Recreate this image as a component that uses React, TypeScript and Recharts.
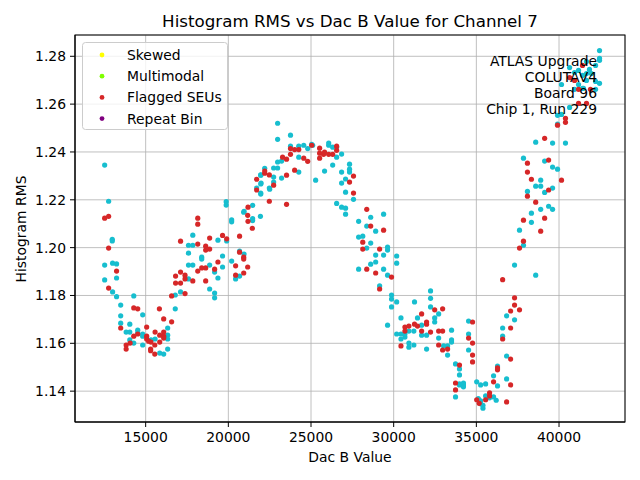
import { ScatterChart, Scatter, XAxis, YAxis, CartesianGrid } from 'recharts'

// Normal (unflagged) bins
const normalDac = [
  12520, 12760, 12980, 12980, 12520, 13000, 13240, 13240, 12520, 13000, 13240, 14280, 16790, 17110,
  17850, 17590, 17850, 19370, 17590, 18390, 18390, 17590, 17850, 18870, 19170, 19370, 17590, 18870,
  19170, 19170, 19870, 19870, 20200, 20200, 19900, 20950, 21470, 21470, 21470, 21940, 21980, 21960,
  22200, 21960, 22480, 20680, 20950, 20200, 19650, 19650, 13490, 13490, 14820, 13490, 14040, 13820,
  14040, 14520, 14520, 14820, 14820, 16330, 16330, 16330, 15570, 15320, 14280, 14820, 14040, 15850,
  16090, 16330, 16790, 20440, 20680, 22980, 22980, 23760, 23760, 24260, 24560, 24800, 25040, 25100,
  26070, 26070, 26310, 26550, 24260, 23220, 22980, 22740, 22980, 21960, 21960, 22740, 22740, 23220,
  24260, 25280, 25820, 26310, 26550, 26850, 26850, 27330, 27330, 27330, 27090, 26850, 27090, 27570,
  22500, 21960, 21710, 20930, 26550, 26850, 27090, 27090, 29390, 28610, 27880, 28370, 28910, 27880,
  28130, 28610, 28370, 29630, 29630, 28910, 29390, 30180, 30180, 28610, 28910, 27880, 29390, 29630,
  29150, 29870, 29870, 32230, 32230, 30180, 29870, 29630, 31260, 32230, 32720, 32480, 32480, 30440,
  31440, 31690, 30920, 31220, 30440, 30180, 30680, 30680, 30440, 31690, 31990, 33500, 32720, 30920,
  30920, 31220, 31990, 33020, 33260, 33500, 33500, 33260, 33740, 33980, 33980, 34530, 34530, 34530,
  33980, 34220, 34220, 34220, 33980, 33740, 35020, 35260, 35560, 35260, 35260, 35560, 36040, 35800,
  36040, 36280, 36280, 36830, 36830, 36590, 36590, 36830, 37310, 35400, 35400, 36200, 35120, 38590,
  37310, 37850, 37610, 38330, 38330, 38890, 39370, 39610, 38090, 38590, 38890, 38890, 39130, 39610,
  37850, 39130, 39610, 39910, 38590, 39610, 40390, 39910, 40150, 39910, 40640, 40150, 40640, 40940,
  41180, 41420, 41660, 41960, 42210, 42450, 42210, 42210, 42450, 42450, 42450, 41660, 41180, 41420,
  41840, 41660, 41480, 40940,
]
const normalRms = [
  1.2345, 1.2194, 1.2035, 1.2028, 1.1927, 1.1935, 1.1932, 1.1873, 1.1865, 1.1815, 1.1795, 1.1798, 1.1802, 1.1815,
  1.2052, 1.201, 1.201, 1.2031, 1.1977, 1.196, 1.1952, 1.1927, 1.1927, 1.1927, 1.1898, 1.1873, 1.1869, 1.1827,
  1.181, 1.179, 1.2192, 1.2178, 1.2116, 1.2108, 1.2028, 1.2152, 1.2177, 1.2121, 1.2113, 1.2131, 1.227, 1.2228,
  1.2332, 1.2304, 1.2249, 1.1985, 1.1973, 1.1944, 1.1965, 1.1919, 1.176, 1.1715, 1.1719, 1.1684, 1.168, 1.1647,
  1.1647, 1.1655, 1.1643, 1.1639, 1.163, 1.1664, 1.1634, 1.1618, 1.1618, 1.1614, 1.1601, 1.1593, 1.1614, 1.1559,
  1.1555, 1.1576, 1.1744, 1.1869, 1.1881, 1.252, 1.2453, 1.247, 1.2424, 1.2424, 1.2428, 1.2414, 1.2432, 1.2428,
  1.2437, 1.2428, 1.242, 1.242, 1.2378, 1.2362, 1.2358, 1.2333, 1.2333, 1.2303, 1.2266, 1.2295, 1.2274, 1.2291,
  1.2316, 1.2282, 1.232, 1.2345, 1.2378, 1.2391, 1.2316, 1.2349, 1.2328, 1.2316, 1.2287, 1.227, 1.2232, 1.2202,
  1.2244, 1.2224, 1.2249, 1.2148, 1.2185, 1.2169, 1.2165, 1.214, 1.214, 1.2127, 1.211, 1.209, 1.2069, 1.2044,
  1.2048, 1.2019, 1.1998, 1.2002, 1.199, 1.1969, 1.1969, 1.1965, 1.1935, 1.1931, 1.194, 1.191, 1.191, 1.1885,
  1.184, 1.1802, 1.1785, 1.1819, 1.1788, 1.1773, 1.1752, 1.1676, 1.1773, 1.1752, 1.1723, 1.1706, 1.1689, 1.1706,
  1.1706, 1.1676, 1.1651, 1.1651, 1.1639, 1.1639, 1.1626, 1.1639, 1.1618, 1.1634, 1.1634, 1.1655, 1.1622, 1.1601,
  1.1584, 1.1593, 1.1576, 1.1589, 1.1589, 1.1614, 1.1605, 1.1551, 1.1514, 1.1493, 1.1468, 1.1693, 1.1639, 1.1572,
  1.143, 1.1434, 1.1426, 1.1418, 1.1426, 1.1376, 1.1439, 1.1426, 1.143, 1.1359, 1.1347, 1.138, 1.1376, 1.1372,
  1.1464, 1.1422, 1.1505, 1.1451, 1.1547, 1.1664, 1.163, 1.1715, 1.1698, 1.1329, 1.1341, 1.1362, 1.1369, 1.1885,
  1.1927, 1.201, 1.2073, 1.2144, 1.2106, 1.216, 1.2173, 1.216, 1.2235, 1.2257, 1.2257, 1.2282, 1.2231, 1.2249,
  1.2374, 1.2362, 1.2337, 1.2328, 1.2441, 1.2437, 1.2437, 1.2553, 1.2557, 1.2516, 1.2586, 1.2682, 1.2753, 1.2732,
  1.2682, 1.2666, 1.2699, 1.2728, 1.2695, 1.2687, 1.2662, 1.2762, 1.2783, 1.2824, 1.2791, 1.2778, 1.2741, 1.272,
  1.2745, 1.2728, 1.2666, 1.2662,
]

// Bins flagged as SEUs
const flaggedDac = [
  12520, 12760, 12760, 13240, 12760, 16570, 17380, 17110, 18150, 18150, 18870, 18150, 18630, 18870,
  18630, 19370, 18390, 18630, 18150, 19170, 17110, 16810, 17380, 17380, 17850, 16810, 17110, 18630,
  19650, 19900, 20680, 21190, 21170, 21190, 21450, 21710, 21710, 22200, 22480, 22480, 20680, 20930,
  20930, 20440, 21170, 14280, 14520, 15830, 13490, 16090, 16570, 15060, 14280, 14520, 15060, 15060,
  15180, 15570, 16090, 15850, 16090, 16090, 15320, 15850, 14060, 13820, 13820, 15550, 15300, 15300,
  15550, 20440, 20930, 23760, 24010, 24260, 25040, 25520, 26550, 26550, 25820, 26070, 26310, 25520,
  25760, 25520, 23760, 23520, 23280, 24560, 24800, 24010, 23520, 22200, 22740, 23520, 27330, 27570,
  27570, 28370, 28610, 29390, 28130, 28130, 29150, 28370, 28910, 29870, 29150, 32480, 32960, 31690,
  31260, 31990, 31990, 30680, 30920, 31440, 30680, 31690, 32230, 32720, 32960, 30440, 32720, 32960,
  33260, 33980, 34770, 34530, 34770, 34770, 34770, 33740, 33740, 35020, 35560, 35800, 35800, 36040,
  36280, 36280, 37070, 36830, 37070, 36590, 37070, 37070, 37310, 37310, 37610, 36590, 35170, 37610,
  37850, 38890, 37850, 39130, 38590, 38090, 38330, 39370, 40150, 38090, 38090, 39370, 39130, 39910,
  40390, 40390, 41180, 41660, 41420, 40640, 40940, 41180, 41900,
]
const flaggedRms = [
  1.2123, 1.2131, 1.1998, 1.1902, 1.1831, 1.1798, 1.1808, 1.2027, 1.2123, 1.2098, 1.204, 1.2015, 1.2006, 1.1994,
  1.199, 1.194, 1.1915, 1.1915, 1.1902, 1.191, 1.1898, 1.1881, 1.1885, 1.1869, 1.1861, 1.1852, 1.1852, 1.1861,
  1.2051, 1.2037, 1.2048, 1.2169, 1.2135, 1.211, 1.2081, 1.2286, 1.2241, 1.2311, 1.2304, 1.2194, 1.1981, 1.196,
  1.1952, 1.1924, 1.1919, 1.1748, 1.1744, 1.1744, 1.1664, 1.1702, 1.169, 1.1668, 1.163, 1.1639, 1.163, 1.1618,
  1.1609, 1.1647, 1.1647, 1.1634, 1.163, 1.1622, 1.1605, 1.1605, 1.1601, 1.1593, 1.1576, 1.1593, 1.1576, 1.1569,
  1.1555, 1.1885, 1.1894, 1.2414, 1.241, 1.241, 1.2428, 1.2416, 1.2424, 1.2407, 1.2399, 1.239, 1.239, 1.2395,
  1.239, 1.2374, 1.239, 1.237, 1.2378, 1.2374, 1.2361, 1.2324, 1.2303, 1.232, 1.2261, 1.2181, 1.2274, 1.2228,
  1.2299, 1.216, 1.209, 1.2073, 1.2023, 1.1994, 1.1994, 1.191, 1.1894, 1.1877, 1.1827, 1.174, 1.1744, 1.1723,
  1.168, 1.1689, 1.168, 1.1668, 1.1672, 1.1672, 1.1651, 1.1651, 1.1647, 1.1651, 1.1651, 1.1589, 1.1593, 1.1572,
  1.1576, 1.1509, 1.1689, 1.1622, 1.1601, 1.1551, 1.1522, 1.1434, 1.1405, 1.1364, 1.1364, 1.138, 1.1393, 1.1439,
  1.1497, 1.1489, 1.1426, 1.1355, 1.1534, 1.1618, 1.1664, 1.1735, 1.176, 1.179, 1.174, 1.1866, 1.1349, 1.1998,
  1.2027, 1.2069, 1.2115, 1.2123, 1.219, 1.2215, 1.2286, 1.2241, 1.2282, 1.2316, 1.2353, 1.2366, 1.2457, 1.2512,
  1.2541, 1.2524, 1.2603, 1.2603, 1.2762, 1.2711, 1.2699, 1.2662, 1.2662,
]

const xTicks = [15000, 20000, 25000, 30000, 35000, 40000]
const yTicks = [1.14, 1.16, 1.18, 1.2, 1.22, 1.24, 1.26, 1.28]

const legendItems = [
  { name: 'Skewed', color: '#ffff00' },
  { name: 'Multimodal', color: '#7fff00' },
  { name: 'Flagged SEUs', color: '#d62728' },
  { name: 'Repeat Bin', color: '#800080' },
]

const infoLines = ['ATLAS Upgrade', 'COLUTAV4', 'Board 96', 'Chip 1, Run 229']

const FONT = '"DejaVu Sans", sans-serif'

const normalPoints = normalDac.map((x, i) => ({ x, y: normalRms[i] }))
const flaggedPoints = flaggedDac.map((x, i) => ({ x, y: flaggedRms[i] }))

const dot = (color: string) => (props: any) => (
  <circle cx={props.cx} cy={props.cy} r={2.6} fill={color} />
)

export default function App() {
  const tickStyle = { fontSize: 13.9, fill: '#000', fontFamily: FONT }
  return (
    <div style={{ position: 'absolute', left: 0, top: 0, width: 640, height: 480, background: '#fff' }}>
      <ScatterChart width={640} height={480} margin={{ top: 35, right: 15, bottom: 0, left: 0 }}>
        <CartesianGrid stroke="#b0b0b0" strokeWidth={0.8} />
        <XAxis
          type="number"
          dataKey="x"
          domain={[10726, 43990]}
          ticks={xTicks}
          allowDataOverflow
          height={58}
          tick={tickStyle}
          tickSize={5}
          tickMargin={5}
          stroke="#000"
          tickLine={{ stroke: '#000' }}
        />
        <YAxis
          type="number"
          dataKey="y"
          domain={[1.1271, 1.2889]}
          ticks={yTicks}
          allowDataOverflow
          width={75}
          tick={tickStyle}
          tickSize={5}
          tickMargin={4}
          tickFormatter={(v: number) => v.toFixed(2)}
          stroke="#000"
          tickLine={{ stroke: '#000' }}
        />
        <Scatter data={normalPoints} fill="#17becf" shape={dot('#17becf')} isAnimationActive={false} />
        <Scatter data={flaggedPoints} fill="#d62728" shape={dot('#d62728')} isAnimationActive={false} />
      </ScatterChart>
      <svg
        width={640}
        height={480}
        style={{ position: 'absolute', left: 0, top: 0, pointerEvents: 'none' }}
        fontFamily={FONT}
      >
        <rect x={75} y={35} width={550} height={387} fill="none" stroke="#000" strokeWidth={1} />
        <text x={350} y={27} textAnchor="middle" fontSize={16.7}>
          Histogram RMS vs Dac B Value for Channel 7
        </text>
        <text x={350} y={462} textAnchor="middle" fontSize={13.9}>
          Dac B Value
        </text>
        <text x={26} y={229} textAnchor="middle" fontSize={13.9} transform="rotate(-90 26 229)">
          Histogram RMS
        </text>
        <rect x={82.5} y={42.5} width={145} height={87} rx={3} fill="#fff" fillOpacity={0.8} stroke="#cccccc" />
        {legendItems.map((item, i) => (
          <g key={item.name}>
            <circle cx={102} cy={55 + i * 21.2} r={2.4} fill={item.color} />
            <text x={127} y={60 + i * 21.2} fontSize={13.9}>
              {item.name}
            </text>
          </g>
        ))}
        {infoLines.map((line, i) => (
          <text key={line} x={597} y={66 + i * 16} textAnchor="end" fontSize={13.9}>
            {line}
          </text>
        ))}
      </svg>
    </div>
  )
}
